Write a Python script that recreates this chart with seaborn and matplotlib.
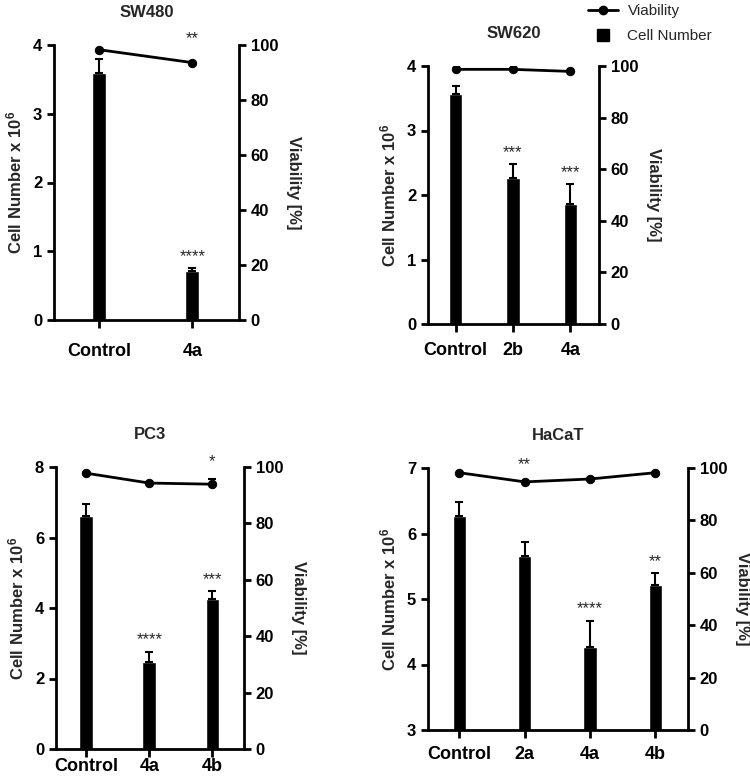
import numpy as np
import matplotlib
matplotlib.use("Agg")
import matplotlib.pyplot as plt
from matplotlib.lines import Line2D
import seaborn as sns

sns.set_theme(style="ticks")
plt.rcParams.update({
    "font.family": ["Liberation Sans", "DejaVu Sans"],
    "font.weight": "bold",
    "mathtext.fontset": "custom",
    "mathtext.bf": "Liberation Sans:bold",
    "mathtext.rm": "Liberation Sans:bold",
    "mathtext.default": "bf",
})

# ── DATA
sw480_groups = ["Control", "4a"]
sw480_cells = [3.60, 0.71]
sw480_err = [0.20, 0.04]
sw480_viab = [98.3, 93.6]
sw480_viab_err = [0.0, 0.0]
sw480_bar_sig = ["", "****"]
sw480_viab_sig = ["", "**"]

sw620_groups = ["Control", "2b", "4a"]
sw620_cells = [3.56, 2.26, 1.86]
sw620_err = [0.13, 0.22, 0.31]
sw620_viab = [98.7, 98.7, 97.9]
sw620_viab_err = [0.0, 0.0, 0.0]
sw620_bar_sig = ["", "***", "***"]
sw620_viab_sig = ["", "", ""]

pc3_groups = ["Control", "4a", "4b"]
pc3_cells = [6.61, 2.47, 4.25]
pc3_err = [0.35, 0.29, 0.23]
pc3_viab = [97.8, 94.3, 93.9]
pc3_viab_err = [0.0, 0.0, 2.0]
pc3_bar_sig = ["", "****", "***"]
pc3_viab_sig = ["", "", "*"]

hacat_groups = ["Control", "2a", "4a", "4b"]
hacat_cells = [6.26, 5.66, 4.26, 5.22]
hacat_err = [0.22, 0.21, 0.41, 0.17]
hacat_viab = [98.2, 94.7, 95.8, 98.2]
hacat_viab_err = [0.0, 0.0, 0.0, 0.0]
hacat_bar_sig = ["", "", "****", "**"]
hacat_viab_sig = ["", "**", "", ""]

# ── LAYOUT  (axes box in pixels, y-range, ticks, bar width, xtick pad, star offset)
W, H = 750, 778
panels = [
    dict(title="SW480", groups=sw480_groups, cells=sw480_cells, err=sw480_err,
         viab=sw480_viab, verr=sw480_viab_err, bsig=sw480_bar_sig, vsig=sw480_viab_sig,
         px=(54, 45, 239, 320), ylim=(0, 4), yticks=[0, 1, 2, 3, 4], bw=0.15, pad=10.5, voff=12),
    dict(title="SW620", groups=sw620_groups, cells=sw620_cells, err=sw620_err,
         viab=sw620_viab, verr=sw620_viab_err, bsig=sw620_bar_sig, vsig=sw620_viab_sig,
         px=(428, 66, 599, 324), ylim=(0, 4), yticks=[0, 1, 2, 3, 4], bw=0.23, pad=7, voff=7),
    dict(title="PC3", groups=pc3_groups, cells=pc3_cells, err=pc3_err,
         viab=pc3_viab, verr=pc3_viab_err, bsig=pc3_bar_sig, vsig=pc3_viab_sig,
         px=(56, 467, 244, 749), ylim=(0, 8), yticks=[0, 2, 4, 6, 8], bw=0.22, pad=0.5, voff=7),
    dict(title="HaCaT", groups=hacat_groups, cells=hacat_cells, err=hacat_err,
         viab=hacat_viab, verr=hacat_viab_err, bsig=hacat_bar_sig, vsig=hacat_viab_sig,
         px=(428, 468, 688, 730), ylim=(3, 7), yticks=[3, 4, 5, 6, 7], bw=0.2, pad=5.5, voff=7),
]

fig = plt.figure(figsize=(W / 100, H / 100), dpi=100)

for p in panels:
    x0, y0, x1, y1 = p["px"]
    ax = fig.add_axes([x0 / W, 1 - y1 / H, (x1 - x0) / W, (y1 - y0) / H])
    n = len(p["groups"])
    pos = np.arange(n)

    sns.barplot(x=p["groups"], y=p["cells"], ax=ax, color="black", width=p["bw"],
                saturation=1, errorbar=None)
    ax.errorbar(pos, p["cells"], yerr=[np.zeros(n), p["err"]], fmt="none",
                ecolor="black", elinewidth=1.5, capsize=3, capthick=1.5, zorder=3)
    ax.set_xlim(-0.48, n - 0.5)
    ax.set_ylim(*p["ylim"])
    ax.set_yticks(p["yticks"])
    ax.set_ylabel("Cell Number x 10$^6$", fontsize=12, fontweight="bold", labelpad=6)
    ax.set_xlabel("")
    ax.set_title(p["title"], fontsize=12, fontweight="bold", pad=20)
    for s in ["top", "right"]:
        ax.spines[s].set_visible(False)
    for s in ["left", "bottom"]:
        ax.spines[s].set_linewidth(2)
        ax.spines[s].set_color("black")
    ax.tick_params(axis="y", width=2, length=5, labelsize=12, colors="black")
    ax.tick_params(axis="x", width=2, length=5.8, labelsize=13, pad=p["pad"], colors="black")
    for lab in ax.get_xticklabels() + ax.get_yticklabels():
        lab.set_fontweight("bold")

    for i, s in enumerate(p["bsig"]):
        if s:
            ax.annotate(s, (pos[i], p["cells"][i] + p["err"][i]), xytext=(0, 3),
                        textcoords="offset points", ha="center", va="bottom",
                        fontsize=12, fontweight="normal")

    ax2 = ax.twinx()
    sns.lineplot(x=pos, y=p["viab"], ax=ax2, color="black", linewidth=2,
                 marker="o", markersize=6, markeredgecolor="black")
    if any(p["verr"]):
        ax2.errorbar(pos, p["viab"], yerr=[np.zeros(n), p["verr"]], fmt="none",
                     ecolor="black", elinewidth=1.5, capsize=3, capthick=1.5)
    ax2.set_ylim(0, 100)
    ax2.set_yticks([0, 20, 40, 60, 80, 100])
    ax2.set_ylabel("Viability [%]", fontsize=12, fontweight="bold", rotation=270, labelpad=16)
    for s in ["top", "left", "bottom"]:
        ax2.spines[s].set_visible(False)
    ax2.spines["right"].set_linewidth(2)
    ax2.spines["right"].set_color("black")
    ax2.tick_params(axis="y", width=2, length=5, labelsize=12, colors="black")
    for lab in ax2.get_yticklabels():
        lab.set_fontweight("bold")
    for i, s in enumerate(p["vsig"]):
        if s:
            ax2.annotate(s, (pos[i], p["viab"][i] + p["verr"][i]), xytext=(0, p["voff"]),
                         textcoords="offset points", ha="center", va="bottom",
                         fontsize=12, fontweight="normal")

handles = [Line2D([], [], color="black", lw=2, marker="o", markersize=6),
           Line2D([], [], ls="none", color="black", marker="s", markersize=9)]
fig.legend(handles, ["Viability", "Cell Number"], loc="upper left",
           bbox_to_anchor=(574 / W, 1.012), frameon=False,
           prop={"weight": "normal", "size": 11}, handlelength=2.0, handletextpad=0.6,
           labelspacing=0.7)

fig.savefig("out.png", dpi=100)
